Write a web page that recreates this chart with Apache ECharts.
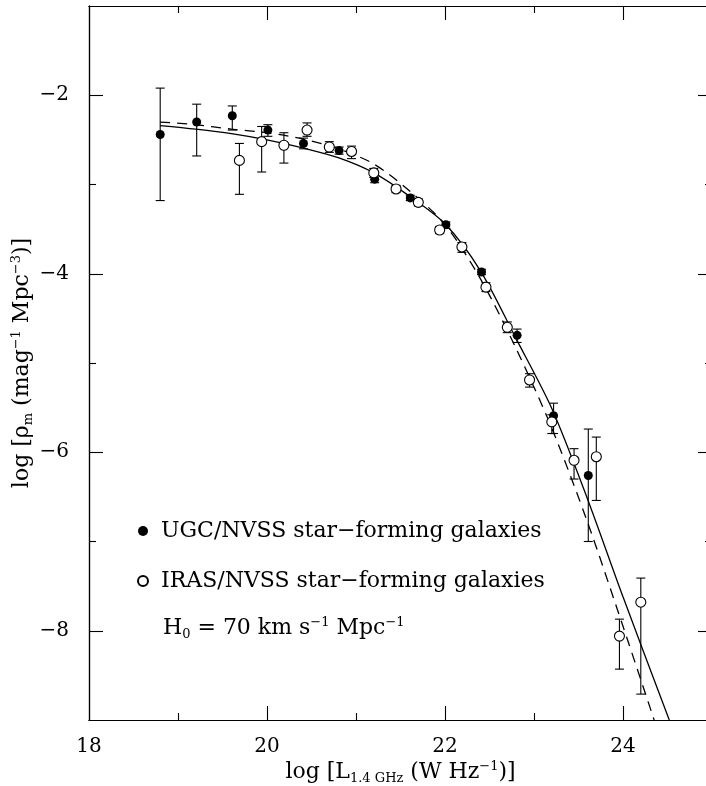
<!DOCTYPE html>
<html>
<head>
<meta charset="utf-8">
<script src="https://cdn.jsdelivr.net/npm/echarts@6/dist/echarts.min.js"></script>
<style>
html, body { margin: 0; padding: 0; background: #fff; }
#chart { width: 706px; height: 786px; }
</style>
</head>
<body>
<div id="chart"></div>
<script>
// UGC/NVSS star-forming galaxies (filled)
const ugcX = [18.80, 19.21, 19.61, 20.01, 20.41, 20.81, 21.21, 21.61, 22.01, 22.41, 22.81, 23.22, 23.61]
const ugcY = [-2.44, -2.30, -2.23, -2.39, -2.54, -2.62, -2.94, -3.15, -3.45, -3.98, -4.69, -5.59, -6.26]
const ugcHi = [-1.92, -2.10, -2.12, -2.33, -2.48, -2.58, -2.90, -3.12, -3.42, -3.95, -4.62, -5.45, -5.74]
const ugcLo = [-3.18, -2.68, -2.39, -2.46, -2.60, -2.66, -2.98, -3.18, -3.49, -4.01, -4.77, -5.79, -7.00]

// IRAS/NVSS star-forming galaxies (open)
const irasX = [19.69, 19.94, 20.19, 20.45, 20.70, 20.95, 21.20, 21.45, 21.70, 21.94, 22.19, 22.46, 22.70, 22.95, 23.20, 23.45, 23.70, 23.96, 24.20]
const irasY = [-2.73, -2.52, -2.56, -2.39, -2.58, -2.63, -2.87, -3.05, -3.20, -3.51, -3.70, -4.15, -4.60, -5.19, -5.66, -6.09, -6.05, -8.06, -7.68]
const irasHi = [-2.54, -2.35, -2.42, -2.31, -2.52, -2.57, -2.82, -3.01, -3.16, -3.47, -3.65, -4.10, -4.54, -5.12, -5.58, -5.96, -5.83, -7.87, -7.41]
const irasLo = [-3.11, -2.86, -2.76, -2.46, -2.64, -2.71, -2.92, -3.09, -3.24, -3.55, -3.76, -4.20, -4.66, -5.27, -5.79, -6.30, -6.54, -8.43, -8.71]

// fitted curves
const solidX = [18.8, 19.2, 19.6, 20.0, 20.4, 20.8, 21.2, 21.6, 22.0, 22.4, 22.8, 23.2, 23.6, 24.0, 24.52]
const solidY = [-2.34, -2.38, -2.43, -2.50, -2.59, -2.70, -2.87, -3.13, -3.44, -3.97, -4.73, -5.51, -6.52, -7.62, -9.0]
const dashX = [18.8, 19.2, 19.6, 20.0, 20.4, 20.8, 21.2, 21.6, 22.0, 22.4, 22.8, 23.2, 23.6, 24.0, 24.35]
const dashY = [-2.30, -2.33, -2.38, -2.42, -2.49, -2.60, -2.77, -3.07, -3.45, -4.06, -4.84, -5.73, -6.78, -7.95, -9.0]

// ticks
const xLabels = [18, 20, 22, 24]
const xMajor = [20, 22, 24]
const xMinor = [19, 21, 23]
const yLabels = [-8, -6, -4, -2]
const yMinor = [-7, -5, -3]

const ugcName = 'UGC/NVSS star\u2212forming galaxies'
const irasName = 'IRAS/NVSS star\u2212forming galaxies'
const font = 'DejaVu Serif'
const black = '#000'

const chart = echarts.init(document.getElementById('chart'))

function errorBars(params, api) {
  const x = api.value(0)
  const lo = api.coord([x, api.value(1)])
  const hi = api.coord([x, api.value(2)])
  const w = 4.5
  const style = { stroke: black, lineWidth: 1.1 }
  return {
    type: 'group',
    children: [
      { type: 'line', shape: { x1: lo[0], y1: lo[1], x2: hi[0], y2: hi[1] }, style },
      { type: 'line', shape: { x1: lo[0] - w, y1: lo[1], x2: lo[0] + w, y2: lo[1] }, style },
      { type: 'line', shape: { x1: hi[0] - w, y1: hi[1], x2: hi[0] + w, y2: hi[1] }, style },
    ],
  }
}

function xAxis(position, ticks, length, labels) {
  return {
    type: 'value', min: 18, max: 25, position,
    axisLine: { show: true, onZero: false, lineStyle: { color: black, width: 1.2 } },
    axisTick: { show: true, inside: true, length, customValues: ticks, lineStyle: { color: black, width: 1.1 } },
    axisLabel: labels
      ? { show: true, customValues: labels, margin: 17, color: black, fontFamily: font, fontSize: 20 }
      : { show: false },
    splitLine: { show: false },
  }
}

function yAxis(position, ticks, length, labels) {
  return {
    type: 'value', min: -9, max: -1, position,
    axisLine: { show: true, onZero: false, lineStyle: { color: black, width: 1.2 } },
    axisTick: { show: true, inside: true, length, customValues: ticks, lineStyle: { color: black, width: 1.1 } },
    axisLabel: labels
      ? { show: true, customValues: labels, margin: 20, color: black, fontFamily: font, fontSize: 20,
          formatter: v => String(v).replace('-', '\u2212') }
      : { show: false },
    splitLine: { show: false },
  }
}

const nameRich = {
  a: { fontFamily: font, fontSize: 22, color: black, lineHeight: 28 },
  sub: { fontFamily: font, fontSize: 13, color: black, verticalAlign: 'bottom', lineHeight: 28, padding: [0, 0, 1, 0] },
  sup: { fontFamily: font, fontSize: 13, color: black, verticalAlign: 'top', lineHeight: 28, padding: [2, 0, 0, 0] },
}

const xs = [
  xAxis('bottom', xMajor, 14, xLabels),
  xAxis('bottom', xMinor, 7),
  xAxis('top', xMajor, 14),
  xAxis('top', xMinor, 7),
]
xs[0].name = '{a|log [L}{sub|1.4 GHz}{a| (W Hz}{sup|\u22121}{a|)]}'
xs[0].nameLocation = 'middle'
xs[0].nameGap = 38
xs[0].nameMoveOverlap = false
xs[0].nameTextStyle = { color: black, fontFamily: font, fontSize: 22, rich: nameRich }

const ys = [
  yAxis('left', yLabels, 14, yLabels),
  yAxis('left', yMinor, 7),
  yAxis('right', yLabels, 14),
  yAxis('right', yMinor, 7),
]
ys[0].name = '{a|log [\u03c1}{sub|m}{a| (mag}{sup|\u22121}{a| Mpc}{sup|\u22123}{a|)]}'
ys[0].nameLocation = 'middle'
ys[0].nameGap = 53
ys[0].nameRotate = 90
ys[0].nameMoveOverlap = false
ys[0].nameTextStyle = { color: black, fontFamily: font, fontSize: 22, rich: nameRich }

chart.setOption({
  animation: false,
  backgroundColor: '#fff',
  grid: { left: 89, right: -6, top: 6, bottom: 66, containLabel: false, outerBoundsMode: 'none' },
  xAxis: xs,
  yAxis: ys,
  legend: {
    data: [ugcName, irasName],
    orient: 'vertical',
    left: 132,
    top: 515,
    itemWidth: 26,
    itemHeight: 10,
    itemGap: 28,
    textStyle: { color: black, fontFamily: font, fontSize: 22 },
  },
  graphic: [{
    type: 'text',
    left: 163,
    top: 614,
    style: {
      text: '{a|H}{sub|0}{a| = 70 km s}{sup|\u22121}{a| Mpc}{sup|\u22121}',
      rich: {
        a: { fontFamily: font, fontSize: 22, fill: black, lineHeight: 28 },
        sub: { fontFamily: font, fontSize: 13, fill: black, verticalAlign: 'bottom', lineHeight: 28, padding: [0, 0, 1, 0] },
        sup: { fontFamily: font, fontSize: 13, fill: black, verticalAlign: 'top', lineHeight: 28, padding: [2, 0, 0, 0] },
      },
    },
  }],
  series: [
    {
      name: 'solid fit', type: 'line', xAxisIndex: 0, yAxisIndex: 0,
      data: solidX.map((x, i) => [x, solidY[i]]),
      smooth: 0.3, showSymbol: false, silent: true,
      lineStyle: { color: black, width: 1.3 },
    },
    {
      name: 'dashed fit', type: 'line', xAxisIndex: 0, yAxisIndex: 0,
      data: dashX.map((x, i) => [x, dashY[i]]),
      smooth: 0.3, showSymbol: false, silent: true,
      lineStyle: { color: black, width: 1.3, type: [10, 7] },
    },
    {
      name: 'ugc err', type: 'custom', xAxisIndex: 0, yAxisIndex: 0,
      renderItem: errorBars, encode: { x: 0, y: [1, 2] },
      data: ugcX.map((x, i) => [x, ugcLo[i], ugcHi[i]]), z: 3,
    },
    {
      name: 'iras err', type: 'custom', xAxisIndex: 0, yAxisIndex: 0,
      renderItem: errorBars, encode: { x: 0, y: [1, 2] },
      data: irasX.map((x, i) => [x, irasLo[i], irasHi[i]]), z: 3,
    },
    {
      name: ugcName, type: 'scatter', xAxisIndex: 0, yAxisIndex: 0,
      data: ugcX.map((x, i) => [x, ugcY[i]]),
      symbol: 'circle', symbolSize: 9, z: 5,
      itemStyle: { color: black, opacity: 1 },
    },
    {
      name: irasName, type: 'scatter', xAxisIndex: 0, yAxisIndex: 0,
      data: irasX.map((x, i) => [x, irasY[i]]),
      symbol: 'circle', symbolSize: 10, z: 5,
      itemStyle: { color: '#fff', borderColor: black, borderWidth: 1.1, opacity: 1 },
    },
  ],
})
</script>
</body>
</html>
